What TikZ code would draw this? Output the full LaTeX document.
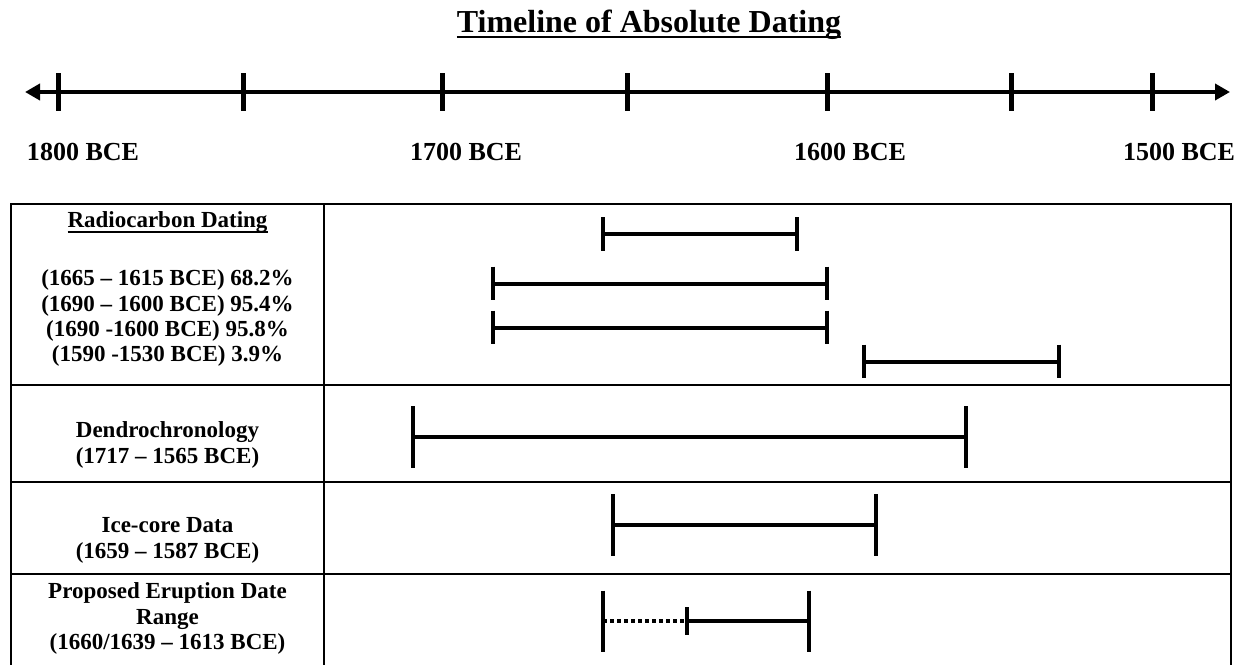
\documentclass[tikz,border=0pt]{standalone}
\usepackage{fontspec}
\setmainfont{Liberation Serif}
\usetikzlibrary{arrows.meta}
\begin{document}
\begin{tikzpicture}[x=1pt,y=-1pt,
  every node/.style={inner sep=0pt, outer sep=0pt},
  cell/.style={anchor=base, font=\fontsize{23}{25.7}\selectfont\bfseries},
  yearlbl/.style={anchor=base west, font=\fontsize{26}{30}\selectfont\bfseries},
  axistick/.style={line width=5pt},
  barline/.style={line width=4pt},
  bartick/.style={line width=4pt},
  rowline/.style={line width=2.2pt},
]
\useasboundingbox (0,0) rectangle (1241,664);

% title
\node[anchor=base, font=\fontsize{32}{36}\selectfont\bfseries] (title) at (649,32) {Timeline of Absolute Dating};
\draw[line width=2.8pt] ([yshift=-5pt]title.base west) -- ([yshift=-5pt]title.base east);

% axis
\coordinate (axL) at (25,92);
\coordinate (axR) at (1230,92);
\draw[line width=4.5pt, {Triangle[length=15pt,width=16pt]}-{Triangle[length=15pt,width=16pt]}] (axL) -- (axR);
\foreach \x in {58,243,442,627,827,1011,1152}
  \draw[axistick] (\x,73) -- (\x,111);

\node[yearlbl] (y1800) at (27,160) {1800 BCE};
\node[yearlbl] (y1700) at (410,160) {1700 BCE};
\node[yearlbl] (y1600) at (794,160) {1600 BCE};
\node[yearlbl] (y1500) at (1123,160) {1500 BCE};

% table grid
\draw[line width=1.8pt] (11,204) -- (1231,204);
\draw[rowline] (11,385) -- (1231,385);
\draw[rowline] (11,482) -- (1231,482);
\draw[rowline] (11,574) -- (1231,574);
\draw[line width=2.8pt] (11,203) -- (11,668);
\draw[line width=2.8pt] (324,203) -- (324,668);
\draw[line width=1.8pt] (1231,203) -- (1231,668);

% left column texts
\node[cell] (rc) at (167.5,227.7) {Radiocarbon Dating};
\draw[line width=2pt] ([yshift=-3.8pt]rc.base west) -- ([yshift=-3.8pt]rc.base east);
\node[cell] (rc1) at (167.5,285) {(1665 – 1615 BCE) 68.2\%};
\node[cell] (rc2) at (167.5,311) {(1690 – 1600 BCE) 95.4\%};
\node[cell] (rc3) at (167.5,336.7) {(1690 -1600 BCE) 95.8\%};
\node[cell] (rc4) at (167.5,361.7) {(1590 -1530 BCE) 3.9\%};

\node[cell] (dd1) at (167.5,437.3) {Dendrochronology};
\node[cell] (dd2) at (167.5,463.5) {(1717 – 1565 BCE)};

\node[cell] (ic1) at (167.5,532.7) {Ice-core Data};
\node[cell] (ic2) at (167.5,558.5) {(1659 – 1587 BCE)};

\node[cell] (pe1) at (167.5,598.3) {Proposed Eruption Date};
\node[cell] (pe2) at (167.5,624) {Range};
\node[cell] (pe3) at (167.5,649.5) {(1660/1639 – 1613 BCE)};

% radiocarbon bars
\coordinate (b1a) at (603,234);   \coordinate (b1b) at (797,234);
\coordinate (b2a) at (493,283.5); \coordinate (b2b) at (827,283.5);
\coordinate (b3a) at (493,327.5); \coordinate (b3b) at (827,327.5);
\coordinate (b4a) at (864,361.5); \coordinate (b4b) at (1059,361.5);
\foreach \b in {b1,b2,b3,b4}{
  \draw[barline] (\b a) -- (\b b);
  \draw[bartick] ([yshift=16.8pt]\b a) -- ([yshift=-16.8pt]\b a);
  \draw[bartick] ([yshift=16.8pt]\b b) -- ([yshift=-16.8pt]\b b);
}

% dendrochronology
\coordinate (da) at (413,437); \coordinate (db) at (966,437);
\draw[line width=4.2pt] (da) -- (db);
\draw[bartick] ([yshift=31pt]da) -- ([yshift=-31pt]da);
\draw[bartick] ([yshift=31pt]db) -- ([yshift=-31pt]db);

% ice core
\coordinate (ia) at (613,525); \coordinate (ib) at (876,525);
\draw[line width=3.3pt] (ia) -- (ib);
\draw[bartick] ([yshift=31pt]ia) -- ([yshift=-31pt]ia);
\draw[bartick] ([yshift=31pt]ib) -- ([yshift=-31pt]ib);

% proposed eruption range
\coordinate (pa) at (603,621); \coordinate (pm) at (687,621); \coordinate (pb) at (809,621);
\draw[line width=3.3pt, dash pattern=on 4pt off 3pt] (pa) -- (pm);
\draw[line width=4pt] (pm) -- (pb);
\draw[bartick] ([yshift=30.5pt]pa) -- ([yshift=-30.5pt]pa);
\draw[line width=3.3pt] ([yshift=14pt]pm) -- ([yshift=-14pt]pm);
\draw[bartick] ([yshift=30.5pt]pb) -- ([yshift=-30.5pt]pb);
\end{tikzpicture}
\end{document}
